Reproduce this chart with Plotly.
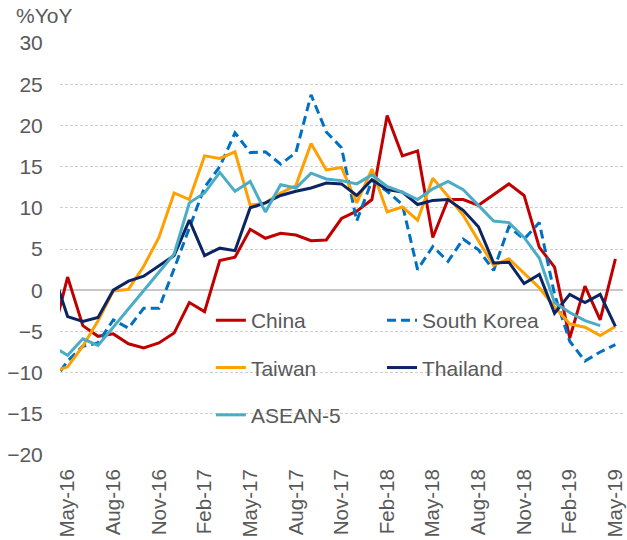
import plotly.graph_objects as go

months = ["Apr-16", "May-16", "Jun-16", "Jul-16", "Aug-16", "Sep-16", "Oct-16", "Nov-16", "Dec-16",
          "Jan-17", "Feb-17", "Mar-17", "Apr-17", "May-17", "Jun-17", "Jul-17", "Aug-17", "Sep-17",
          "Oct-17", "Nov-17", "Dec-17", "Jan-18", "Feb-18", "Mar-18", "Apr-18", "May-18", "Jun-18",
          "Jul-18", "Aug-18", "Sep-18", "Oct-18", "Nov-18", "Dec-18", "Jan-19", "Feb-19", "Mar-19",
          "Apr-19", "May-19"]

tick_labels = ["May-16", "Aug-16", "Nov-16", "Feb-17", "May-17", "Aug-17", "Nov-17",
               "Feb-18", "May-18", "Aug-18", "Nov-18", "Feb-19", "May-19"]

china = [-5.7, 1.6, -4.3, -5.6, -5.3, -6.5, -7.0, -6.4, -5.2,
         -1.5, -2.6, 3.6, 4.0, 7.4, 6.3, 6.9, 6.7, 6.0,
         6.1, 8.7, 9.6, 11.0, 21.2, 16.3, 16.9, 6.4, 11.0,
         11.0, 10.3, 11.6, 12.9, 11.5, 5.2, 2.8, -5.8, 0.5,
         -3.6, 3.8]

south_korea = [-11.2, -8.6, -6.8, -6.4, -3.6, -4.6, -2.2, -2.2, 2.6,
               7.5, 12.5, 15.0, 19.1, 16.7, 16.8, 15.3, 16.7, 23.7,
               19.2, 17.3, 8.4, 13.3, 12.0, 10.4, 2.5, 5.3, 3.5,
               6.2, 4.9, 2.4, 7.7, 6.2, 8.2, -0.5, -6.2, -8.6,
               -7.5, -6.6]

taiwan = [-9.9, -9.3, -6.8, -3.7, -0.1, 0.1, 2.9, 6.4, 11.8,
          11.0, 16.3, 16.0, 16.8, 10.3, 10.6, 11.8, 12.7, 17.8,
          14.6, 14.9, 10.6, 14.7, 9.5, 10.1, 8.5, 13.6, 11.4,
          9.1, 6.0, 3.0, 3.8, 2.1, 0.3, -2.0, -4.1, -4.5,
          -5.5, -4.4]

thailand = [2.4, -3.2, -3.8, -3.3, 0.0, 1.1, 1.7, 3.0, 4.2,
            8.5, 4.2, 5.1, 4.8, 10.0, 10.6, 11.5, 12.0, 12.4,
            13.0, 12.9, 11.5, 13.4, 12.2, 11.9, 10.4, 10.9, 11.0,
            9.7, 7.7, 3.3, 3.4, 0.8, 1.9, -2.8, -0.5, -1.5,
            -0.5, -4.4]

asean5 = [-6.8, -7.9, -5.9, -6.7, None, None, None, None, 4.4,
          10.6, 11.8, 14.3, 12.0, 13.2, 9.5, 12.8, 12.4, 14.2,
          13.5, 13.3, 12.9, 14.0, 12.6, 11.9, 11.0, 12.3, 13.2,
          12.2, 10.3, 8.4, 8.2, 6.4, 3.9, -1.5, -2.7, -3.7,
          -4.3, None]

FONT = "Liberation Sans, Arial, sans-serif"
GREY = "#595959"

series = [
    ("China", china, "#C00000", "solid", "legend"),
    ("South Korea", south_korea, "#0070C0", "9px,5px", "legend2"),
    ("Taiwan", taiwan, "#FFA000", "solid", "legend"),
    ("Thailand", thailand, "#0B2462", "solid", "legend2"),
    ("ASEAN-5", asean5, "#4BACC6", "solid", "legend"),
]

fig = go.Figure()
for name, vals, color, dash, leg in series:
    fig.add_trace(go.Scatter(
        x=months, y=vals, name=name, mode="lines",
        line=dict(color=color, width=3, dash=dash),
        connectgaps=True, legend=leg, legendgroup=name,
    ))

fig.update_layout(
    width=627, height=540,
    margin=dict(l=60, r=4, t=43, b=85),
    paper_bgcolor="white", plot_bgcolor="white",
    font=dict(family=FONT, size=21, color=GREY),
    legend=dict(x=0.268, y=0.376, xanchor="left", yanchor="top",
                bgcolor="rgba(0,0,0,0)", tracegroupgap=17,
                font=dict(family=FONT, size=21, color=GREY)),
    legend2=dict(x=0.572, y=0.376, xanchor="left", yanchor="top",
                 bgcolor="rgba(0,0,0,0)", tracegroupgap=17,
                 font=dict(family=FONT, size=21, color=GREY)),
    xaxis=dict(
        type="category", categoryorder="array", categoryarray=months,
        range=[0.5, len(months) - 0.5], automargin=False,
        tickmode="array", tickvals=tick_labels, ticktext=tick_labels,
        tickangle=-90, showgrid=False, zeroline=False, showline=False,
        ticks="outside", ticklen=5, tickcolor="rgba(0,0,0,0)",
        tickfont=dict(family=FONT, size=20.5, color=GREY),
    ),
    yaxis=dict(
        range=[-20, 30], dtick=5, tick0=0, automargin=False,
        showgrid=True, gridcolor="#cfcfcf", gridwidth=1, griddash="3px,2px",
        zeroline=True, zerolinecolor="#c8c8c8", zerolinewidth=1.5,
        showline=False, ticks="outside", ticklen=12, tickcolor="rgba(0,0,0,0)",
        tickfont=dict(family=FONT, size=21, color=GREY),
    ),
    annotations=[dict(
        text="%YoY", xref="paper", yref="paper", x=0, y=1,
        xanchor="left", yanchor="middle", xshift=-46, yshift=28,
        showarrow=False, font=dict(family=FONT, size=21, color=GREY),
    )],
)

fig.write_html("out.html", config={"displayModeBar": False},
               post_script="document.body.style.margin='0';")
